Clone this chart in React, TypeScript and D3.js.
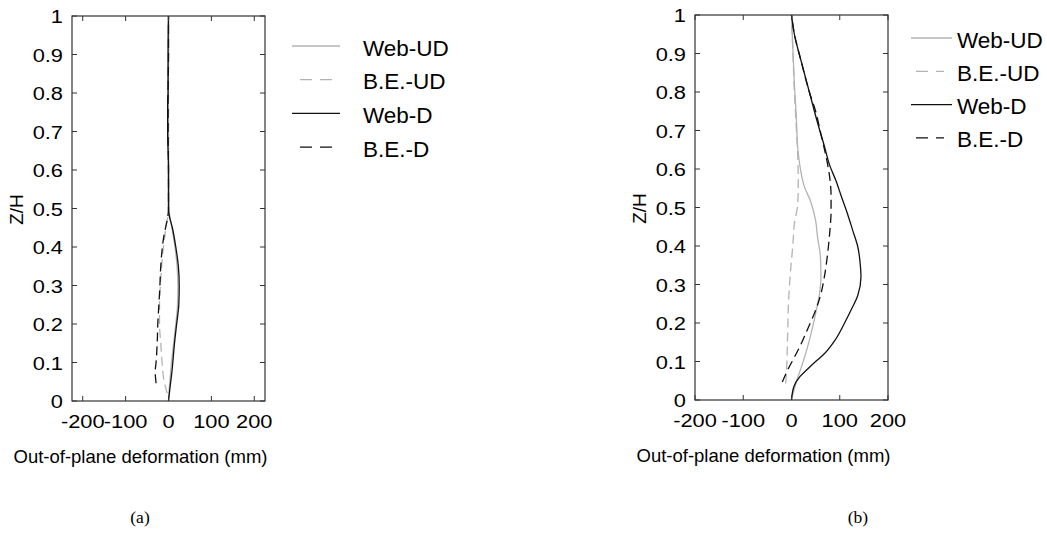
import { useCallback } from "react";
import * as d3 from "d3";

// z/H levels used for the tick marks
const zTicks = [0, 0.1, 0.2, 0.3, 0.4, 0.5, 0.6, 0.7, 0.8, 0.9, 1];
const xTicks = [-200, -100, 0, 100, 200];
const legendNames = ["Web-UD", "B.E.-UD", "Web-D", "B.E.-D"];

// panel (a): out-of-plane deformation in mm against z/H
const zWebUDa = [0, 0.05, 0.1, 0.15, 0.2, 0.25, 0.3, 0.35, 0.4, 0.45, 0.5, 0.6, 0.7, 0.8, 0.9, 1];
const webUDa = [0, 3, 7, 12, 17, 21, 22, 20, 15, 8, 1, 0, 0, -1, 0, 0];
const zBeUDa = [0.02, 0.05, 0.1, 0.15, 0.2, 0.25, 0.3, 0.35, 0.4, 0.45, 0.5, 0.6, 0.7, 0.8, 0.9, 1];
const beUDa = [-3, -10, -15, -18, -21, -21, -19, -16, -12, -6, 0, 0, 0, 0, 0, 0];
const zWebDa = [0, 0.04, 0.076, 0.1, 0.15, 0.2, 0.25, 0.3, 0.35, 0.4, 0.45, 0.48, 0.5, 0.6, 0.7, 0.78, 0.8, 0.9, 1];
const webDa = [0, 4, 8, 10, 14, 19, 24, 25, 23, 17, 9, 2, 0, 0, -2, -2, -1, -1, 0];
const zBeDa = [0.046, 0.076, 0.1, 0.16, 0.2, 0.24, 0.3, 0.33, 0.38, 0.42, 0.46, 0.48, 0.5, 0.6, 0.7, 0.8, 0.9, 1];
const beDa = [-29, -31, -29, -26, -25, -23, -20, -19, -16, -12, -5, -1.5, 0, 0, -1, -1, 0, 0];

// panel (b)
const zWebUDb = [0, 0.047, 0.095, 0.155, 0.225, 0.276, 0.319, 0.371, 0.423, 0.466, 0.518, 0.553, 0.604, 0.656, 0.734, 0.82, 0.907, 1];
const webUDb = [0, 10, 23, 37, 50, 58, 61, 60, 54, 50, 39, 27, 18, 13, 10, 6, 3, 0];
const zBeUDb = [0.043, 0.086, 0.173, 0.259, 0.319, 0.406, 0.458, 0.51, 0.56, 0.63, 0.708, 0.8, 0.9, 1];
const beUDb = [-12, -10, -8, -6, -3, 3, 6, 13, 14, 13, 10, 6, 3, 0];
const zWebDb = [0, 0.035, 0.06, 0.08, 0.1, 0.12, 0.155, 0.2, 0.235, 0.27, 0.32, 0.345, 0.4, 0.44, 0.48, 0.53, 0.57, 0.61, 0.66, 0.72, 0.8, 0.88, 0.95, 1];
const webDb = [0, 5, 17, 33, 50, 68, 90, 110, 124, 137, 144, 143, 137, 127, 117, 103, 92, 79, 68, 54, 37, 20, 6, 0];
const zBeDb = [0.047, 0.078, 0.104, 0.138, 0.186, 0.233, 0.276, 0.319, 0.371, 0.432, 0.492, 0.53, 0.58, 0.63, 0.69, 0.75, 0.8, 0.88, 0.95, 1];
const beDb = [-19, -8, 3, 17, 34, 50, 61, 68, 74, 79, 82, 82, 79, 72, 61, 50, 37, 20, 6, 0];

const GRAY = "#b3b3b3";
const BLACK = "#111";
const AXIS = "#333";
const FONT = "'Liberation Sans', Arial, sans-serif";

const drawPanel = (svg: any, o: any) => {
    const { left, right, top, bottom } = o;
    const xScale = d3.scaleLinear().domain(o.xDomain).range([left, right]);
    const yScale = d3.scaleLinear().domain([0, 1]).range([bottom, top]);

    const series = [
        { z: o.data[0][0], v: o.data[0][1], color: GRAY, dash: null },
        { z: o.data[1][0], v: o.data[1][1], color: GRAY, dash: "9,5" },
        { z: o.data[2][0], v: o.data[2][1], color: BLACK, dash: null },
        { z: o.data[3][0], v: o.data[3][1], color: BLACK, dash: "9,5" },
    ];

    const g = svg.append("g");

    // curves
    series.forEach((s) => {
        const I = d3.range(s.z.length);
        const line = d3.line<number>()
            .curve(d3.curveMonotoneY)
            .x((i) => xScale(s.v[i]))
            .y((i) => yScale(s.z[i]));
        g.append("path")
            .attr("fill", "none")
            .attr("stroke", s.color)
            .attr("stroke-width", 1.3)
            .attr("stroke-dasharray", s.dash)
            .attr("d", line(I));
    });

    // box
    g.append("rect")
        .attr("x", left).attr("y", top)
        .attr("width", right - left).attr("height", bottom - top)
        .attr("fill", "none").attr("stroke", AXIS).attr("stroke-width", 1.2);

    // inward ticks on all four sides
    const tl = 5;
    xTicks.forEach((t) => {
        const x = xScale(t);
        g.append("line").attr("x1", x).attr("x2", x).attr("y1", bottom).attr("y2", bottom - tl).attr("stroke", AXIS);
        g.append("line").attr("x1", x).attr("x2", x).attr("y1", top).attr("y2", top + tl).attr("stroke", AXIS);
        g.append("text")
            .attr("transform", `translate(${x},${bottom + 27}) scale(1.18,1)`)
            .attr("text-anchor", "middle")
            .attr("font-family", FONT).attr("font-size", 18.5)
            .text(t);
    });
    zTicks.forEach((t) => {
        const y = yScale(t);
        g.append("line").attr("x1", left).attr("x2", left + tl).attr("y1", y).attr("y2", y).attr("stroke", AXIS);
        g.append("line").attr("x1", right).attr("x2", right - tl).attr("y1", y).attr("y2", y).attr("stroke", AXIS);
        g.append("text")
            .attr("transform", `translate(${left - 9},${y + 1}) scale(1.18,1)`)
            .attr("text-anchor", "end")
            .attr("dominant-baseline", "central")
            .attr("font-family", FONT).attr("font-size", 18.5)
            .text(d3.format("~g")(t));
    });

    // axis labels
    g.append("text")
        .attr("x", (left + right) / 2 - 28).attr("y", bottom + 62)
        .attr("text-anchor", "middle")
        .attr("font-family", FONT).attr("font-size", 18.5)
        .text("Out-of-plane deformation (mm)");
    g.append("text")
        .attr("transform", `translate(${left - 49.5},${(top + bottom) / 2 + 1}) rotate(-90)`)
        .attr("text-anchor", "middle")
        .attr("font-family", FONT).attr("font-size", 19)
        .text("Z/H");

    // legend
    series.forEach((s, i) => {
        const y = o.legendY + i * o.legendStep;
        g.append("line")
            .attr("x1", s.dash ? o.dashX0 : o.lineX0).attr("x2", s.dash ? o.dashX1 : o.lineX1)
            .attr("y1", y).attr("y2", y)
            .attr("stroke", s.color).attr("stroke-width", 1.3)
            .attr("stroke-dasharray", s.dash ? "12,8" : null);
        g.append("text")
            .attr("x", o.textX).attr("y", y + 2)
            .attr("dominant-baseline", "central")
            .attr("font-family", FONT).attr("font-size", 22.5)
            .text(legendNames[i]);
    });

    // caption
    g.append("text")
        .attr("x", o.captionX).attr("y", 523)
        .attr("text-anchor", "middle")
        .attr("font-family", "'Liberation Serif', 'Times New Roman', serif").attr("font-size", 17.5)
        .text(o.caption);
};

const App = () => {
    const chart = useCallback((node: SVGSVGElement | null) => {
        if (node == null) return;
        const svg = d3.select(node);
        svg.selectAll("*").remove();

        drawPanel(svg, {
            left: 72, right: 265, top: 16, bottom: 401,
            xDomain: [-225, 225],
            data: [[zWebUDa, webUDa], [zBeUDa, beUDa], [zWebDa, webDa], [zBeDa, beDa]],
            lineX0: 292, lineX1: 340, dashX0: 300, dashX1: 332, textX: 363,
            legendY: 46, legendStep: 33.7,
            caption: "(a)", captionX: 140,
        });

        drawPanel(svg, {
            left: 695, right: 888, top: 15, bottom: 400,
            xDomain: [-200, 200],
            data: [[zWebUDb, webUDb], [zBeUDb, beUDb], [zWebDb, webDb], [zBeDb, beDb]],
            lineX0: 911, lineX1: 952, dashX0: 916, dashX1: 944, textX: 957,
            legendY: 38, legendStep: 33.3,
            caption: "(b)", captionX: 858,
        });
    }, []);

    return (
        <svg
            ref={chart}
            width={1047}
            height={545}
            style={{ position: "absolute", left: 0, top: 0, background: "#fff" }}
        />
    );
};

export default App;
